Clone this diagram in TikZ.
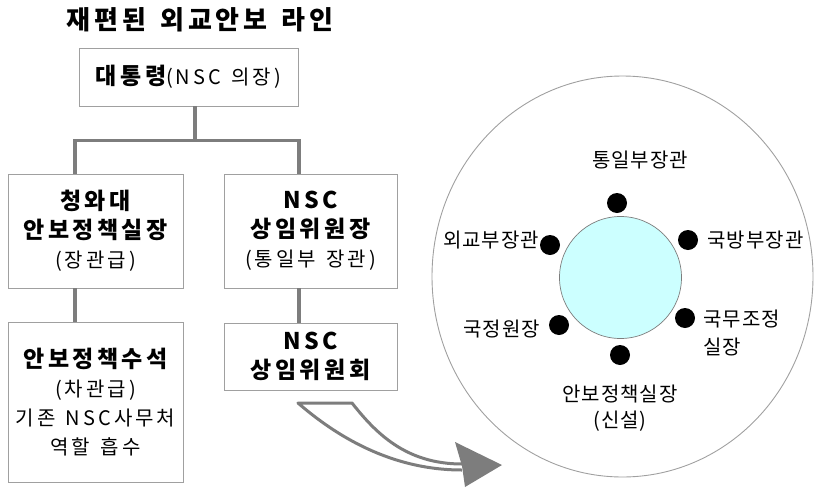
\documentclass[tikz,border=0pt]{standalone}
\usepackage{fontspec}
\setmainfont{Noto Sans CJK KR}[LetterSpace=5]
\newfontfamily\boxfont{Noto Sans CJK KR}[LetterSpace=15, WordSpace=1.4]
\usetikzlibrary{positioning}
\definecolor{linegray}{RGB}{125,125,125}
\definecolor{boxgray}{RGB}{160,160,160}
\definecolor{tablecyan}{RGB}{204,255,255}
\newcommand{\lite}{\fontsize{20}{29}\selectfont}
\begin{document}
\begin{tikzpicture}[x=1pt, y=-1pt,
  box/.style={draw=boxgray, line width=0.9pt, align=center, inner sep=0pt,
    font=\boxfont\fontsize{23}{29}\selectfont},
  link/.style={draw=linegray, line width=3.8pt},
  seat/.style={shape=circle, fill=black, minimum size=20pt, inner sep=0pt},
  who/.style={font=\fontsize{20}{28}\selectfont, inner sep=0pt}]
\useasboundingbox (0,0) rectangle (815,488);
\node[font=\boxfont\bfseries\fontsize{26}{28}\selectfont] (title) at (200,20) {재편된 외교안보 라인};
% org chart
\node[box, minimum width=219pt, minimum height=58pt] (pres) at (188.5,77) {{\bfseries 대통령}{\lite(NSC 의장)}};
\node[box, minimum width=175pt, minimum height=114pt] (chief) at (95.5,231) {{\bfseries 청와대}\\{\bfseries 안보정책실장}\\{\lite(장관급)}};
\node[box, minimum width=173pt, minimum height=114pt] (nscchair) at (310.5,231) {{\bfseries NSC}\\{\bfseries 상임위원장}\\{\lite(통일부 장관)}};
\node[box, minimum width=175pt, minimum height=160pt] (secr) at (95.5,402) {{\bfseries 안보정책수석}\\{\lite(차관급)}\\{\lite 기존 NSC사무처}\\{\lite 역할 흡수}};
\node[box, minimum width=173pt, minimum height=67pt] (nsccom) at (310.5,356.5) {{\bfseries NSC}\\{\bfseries 상임위원회}};
\draw[link] ([xshift=6.5pt]pres.south) -- ++(0,34) coordinate (fork);
\draw[link] ([xshift=-20.5pt]chief.north) |- (fork) -| ([xshift=-11.5pt]nscchair.north);
\draw[link] ([xshift=-20.5pt]chief.south) -- ([xshift=-20.5pt]secr.north);
\draw[link] ([xshift=-11.5pt]nscchair.south) -- ([xshift=-11.5pt]nsccom.north);
% hollow arrow
\coordinate (tailL) at (298,403);
\coordinate (tailR) at (352,403);
\coordinate (tip) at (502,465);
\fill[linegray] (455,442) -- (tip) -- (465,487) -- (462,466) -- cycle;
\draw[linegray, line width=3pt, line join=round] (462,464) .. controls (405,464) and (375,432) .. (tailR) -- (tailL) .. controls (335,435) and (390,470) .. (462,470);
% council
\draw[boxgray, line width=0.9pt] (622.5,276.5) ellipse [x radius=190.5, y radius=200.5];
\node[shape=circle, draw=linegray, line width=0.7pt, fill=tablecyan, minimum size=122pt, inner sep=0pt] (table) at (620.5,277.5) {};
\node[seat] (unif) at (617,203) {};
\node[seat] (mofa) at (550,245) {};
\node[seat] (mnd) at (688,240) {};
\node[seat] (nis) at (559,325) {};
\node[seat] (opm) at (685,318) {};
\node[seat] (nsa) at (620,355) {};
\node[who] (unifname) at (640,160) {통일부장관};
\node[who] (mofaname) at (491,240) {외교부장관};
\node[who] (mndname) at (755.5,240) {국방부장관};
\node[who] (nisname) at (501.5,329) {국정원장};
\node[who, align=left, anchor=west] (opmname) at (703,332.5) {국무조정\\실장};
\node[who, align=center, font=\fontsize{20}{26.5}\selectfont] (nsaname) at (620,408) {안보정책실장\\(신설)};
\end{tikzpicture}
\end{document}
